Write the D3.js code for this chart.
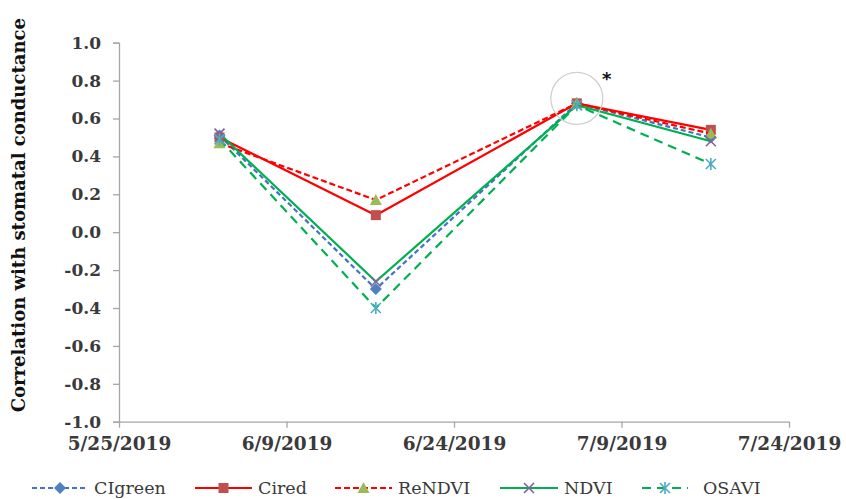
<!DOCTYPE html>
<html>
<head>
<meta charset="utf-8">
<script src="https://cdn.jsdelivr.net/npm/d3@7/dist/d3.min.js"></script>
<style>
  html, body { margin: 0; padding: 0; background: #fff; }
  svg { display: block; }
  .tick-y { font-family: "DejaVu Serif", serif; font-weight: bold; font-size: 17px; fill: #3a3a3a; }
  .tick-x { font-family: "DejaVu Serif", serif; font-weight: bold; font-size: 18.5px; fill: #3a3a3a; }
  .legend-text { font-family: "DejaVu Serif", serif; font-size: 17.5px; fill: #3a3a3a; }
</style>
</head>
<body>
<svg id="chart" width="846" height="499"></svg>
<script>
/* ── DATA ───────────────────────────────────────────────────────────────────── */
const dates    = ['2019-06-03', '2019-06-17', '2019-07-05', '2019-07-17'];
const cigreen  = [0.51, -0.30, 0.68, 0.50];
const cired    = [0.50,  0.09, 0.68, 0.54];
const rendvi   = [0.47,  0.17, 0.68, 0.52];
const ndvi     = [0.52, -0.26, 0.67, 0.48];
const osavi    = [0.49, -0.40, 0.67, 0.36];

const xTickLabels = ['5/25/2019', '6/9/2019', '6/24/2019', '7/9/2019', '7/24/2019'];
const yTicks      = [-1.0, -0.8, -0.6, -0.4, -0.2, 0.0, 0.2, 0.4, 0.6, 0.8, 1.0];

const SERIES = [
  { name: 'CIgreen', values: cigreen, line: '#4472C4', dash: '5,3', marker: 'diamond',  mcolor: '#4F81BD' },
  { name: 'Cired',   values: cired,   line: '#FF0000', dash: null,  marker: 'square',   mcolor: '#C0504D' },
  { name: 'ReNDVI',  values: rendvi,  line: '#FF0000', dash: '6,3', marker: 'triangle', mcolor: '#9BBB59' },
  { name: 'NDVI',    values: ndvi,    line: '#00B050', dash: null,  marker: 'cross',    mcolor: '#8064A2' },
  { name: 'OSAVI',   values: osavi,   line: '#00B050', dash: '9,6', marker: 'star',     mcolor: '#4BACC6' }
];

/* ── SCALES ─────────────────────────────────────────────────────────────────── */
const parse = d3.timeParse('%Y-%m-%d');
const fmt   = d3.timeFormat('%-m/%-d/%Y');

const x = d3.scaleTime()
  .domain([parse('2019-05-25'), parse('2019-07-24')])
  .range([119, 789]);
const y = d3.scaleLinear().domain([-1, 1]).range([421.7, 42.7]);

const svg = d3.select('#chart');
const AXIS = '#a6a6a6';

/* ── AXES ───────────────────────────────────────────────────────────────────── */
const yAxis = svg.append('g')
  .attr('transform', `translate(${x.range()[0]},0)`)
  .call(d3.axisLeft(y).tickValues(yTicks).tickSize(6).tickPadding(12).tickFormat(d3.format('.1f')));
yAxis.select('.domain').attr('stroke', AXIS).attr('stroke-width', 1.3);
yAxis.selectAll('.tick line').attr('stroke', AXIS).attr('stroke-width', 1.3);
yAxis.selectAll('.tick text').attr('class', 'tick-y').attr('font-family', null).attr('font-size', null).attr('fill', null)
  .text(d => d3.format('.1f')(d).replace('−', '-'));

const xTickDates = xTickLabels.map(s => d3.timeParse('%m/%d/%Y')(s));
const xAxis = svg.append('g')
  .attr('transform', `translate(0,${y(-1)})`)
  .call(d3.axisBottom(x).tickValues(xTickDates).tickSize(6).tickPadding(9).tickFormat(fmt).tickSizeOuter(0));
xAxis.select('.domain').attr('stroke', AXIS).attr('stroke-width', 1.3);
xAxis.selectAll('.tick line').attr('stroke', AXIS).attr('stroke-width', 1.3);
xAxis.selectAll('.tick text').attr('class', 'tick-x').attr('font-family', null).attr('font-size', null).attr('fill', null);

/* y axis title */
svg.append('text')
  .attr('transform', `translate(25,${(y(1) + y(-1)) / 2 - 17}) rotate(-90)`)
  .attr('text-anchor', 'middle')
  .style('font-family', '"DejaVu Serif", serif')
  .style('font-weight', 'bold')
  .style('font-size', '18px')
  .style('fill', '#111')
  .text('Correlation with stomatal conductance');

/* ── MARKERS ────────────────────────────────────────────────────────────────── */
function drawMarker(g, type, cx, cy, color) {
  if (type === 'diamond') {
    g.append('path').attr('d', `M${cx},${cy - 6}L${cx + 6},${cy}L${cx},${cy + 6}L${cx - 6},${cy}Z`).attr('fill', color);
  } else if (type === 'square') {
    g.append('rect').attr('x', cx - 5).attr('y', cy - 5).attr('width', 10).attr('height', 10).attr('fill', color);
  } else if (type === 'triangle') {
    g.append('path').attr('d', `M${cx},${cy - 6}L${cx + 6},${cy + 5}L${cx - 6},${cy + 5}Z`).attr('fill', color);
  } else if (type === 'cross') {
    g.append('path').attr('d', `M${cx - 5},${cy - 5}L${cx + 5},${cy + 5}M${cx + 5},${cy - 5}L${cx - 5},${cy + 5}`)
      .attr('stroke', color).attr('stroke-width', 1.6);
  } else if (type === 'star') {
    g.append('path').attr('d', `M${cx - 5},${cy - 5}L${cx + 5},${cy + 5}M${cx + 5},${cy - 5}L${cx - 5},${cy + 5}M${cx},${cy - 6}L${cx},${cy + 6}`)
      .attr('stroke', color).attr('stroke-width', 1.6);
  }
}

/* ── SERIES ─────────────────────────────────────────────────────────────────── */
const line = d3.line().x(d => x(d.date)).y(d => y(d.v));

SERIES.forEach(s => {
  const pts = dates.map((d, i) => ({ date: parse(d), v: s.values[i] }));
  const g = svg.append('g');
  g.append('path')
    .datum(pts)
    .attr('d', line)
    .attr('fill', 'none')
    .attr('stroke', s.line)
    .attr('stroke-width', 2.2)
    .attr('stroke-dasharray', s.dash);
  pts.forEach(p => drawMarker(g, s.marker, x(p.date), y(p.v), s.mcolor));
});

/* annotation: circle + asterisk at the peak */
const peakDate = parse(dates[2]);
svg.append('circle')
  .attr('cx', x(peakDate))
  .attr('cy', y(0.68) - 5)
  .attr('r', 26)
  .attr('fill', 'none')
  .attr('stroke', '#cfcfcf')
  .attr('stroke-width', 1.2);
svg.append('text')
  .attr('x', x(peakDate) + 30)
  .attr('y', y(0.68) - 18)
  .attr('text-anchor', 'middle')
  .style('font-family', '"DejaVu Sans", sans-serif')
  .style('font-weight', 'bold')
  .style('font-size', '18px')
  .style('fill', '#111')
  .text('*');

/* ── LEGEND ─────────────────────────────────────────────────────────────────── */
const legendX = [32, 195, 335, 500, 642];
const legendW = [56, 57, 57, 58, 46];
const legendY = 488;
SERIES.forEach((s, i) => {
  const g = svg.append('g');
  const x0 = legendX[i], x1 = x0 + legendW[i];
  g.append('line')
    .attr('x1', x0).attr('x2', x1).attr('y1', legendY).attr('y2', legendY)
    .attr('stroke', s.line).attr('stroke-width', 2.2).attr('stroke-dasharray', s.dash);
  drawMarker(g, s.marker, (x0 + x1) / 2, legendY, s.mcolor);
  g.append('text')
    .attr('class', 'legend-text')
    .attr('x', x1 + (i === 4 ? 15 : 6))
    .attr('y', legendY + 6)
    .text(s.name);
});
</script>
</body>
</html>
